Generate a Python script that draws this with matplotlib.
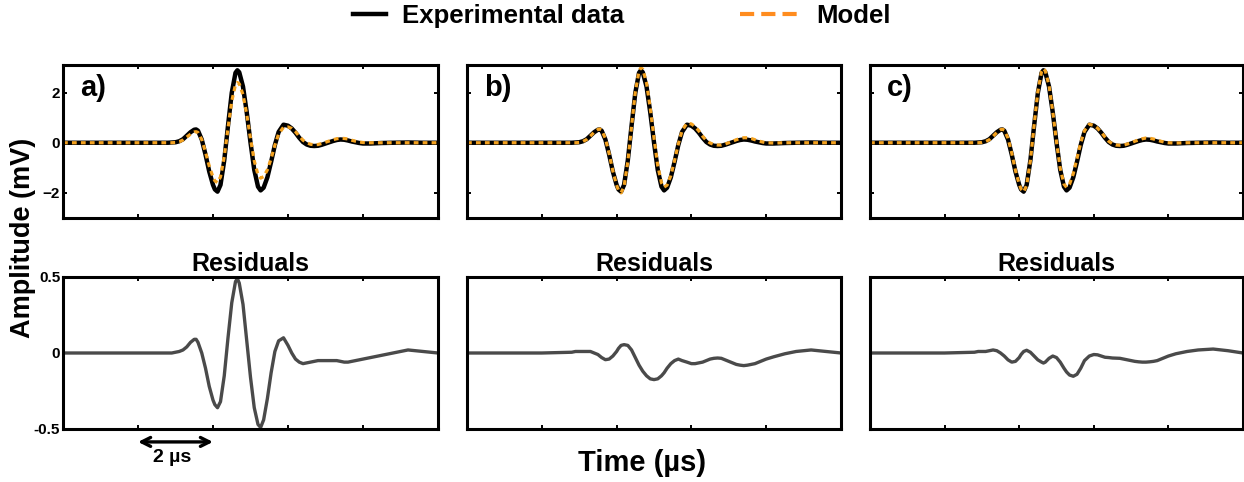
import matplotlib
matplotlib.use('agg')
import matplotlib.pyplot as plt
from matplotlib.lines import Line2D

plt.rcParams['font.family'] = ['Liberation Sans', 'DejaVu Sans']
plt.rcParams['font.weight'] = 'bold'

# time axis (µs), shared by every trace
t_us = [0, 2.0, 2.8, 2.9, 3.0, 3.1, 3.2, 3.3,
        3.4, 3.5, 3.55, 3.6, 3.7, 3.8, 3.9, 4.0,
        4.05, 4.12, 4.2, 4.3, 4.4, 4.5, 4.6, 4.65,
        4.7, 4.8, 4.9, 5.0, 5.1, 5.2, 5.27, 5.35,
        5.45, 5.55, 5.65, 5.75, 5.88, 6.0, 6.1, 6.2,
        6.3, 6.4, 6.5, 6.6, 6.7, 6.8, 6.9, 7.0,
        7.1, 7.2, 7.3, 7.4, 7.5, 7.6, 7.7, 7.8,
        7.9, 8.0, 8.2, 8.5, 8.8, 9.2, 9.6, 10.0]

# experimental waveform (mV), same in the three panels
exp_mv = [0, 0, 0, 0.01, 0.02, 0.06, 0.14, 0.28,
          0.42, 0.52, 0.53, 0.48, 0.13, -0.47, -1.15, -1.68,
          -1.86, -1.95, -1.68, -0.70, 0.68, 1.99, 2.79, 2.89,
          2.81, 2.24, 1.21, 0.01, -1.08, -1.75, -1.90, -1.79,
          -1.38, -0.76, -0.09, 0.43, 0.72, 0.68, 0.57, 0.40,
          0.20, 0.03, -0.07, -0.12, -0.13, -0.12, -0.08, -0.03,
          0.02, 0.07, 0.11, 0.13, 0.12, 0.09, 0.05, 0.02,
          -0.01, -0.03, -0.03, -0.01, 0.0, 0.01, 0.0, 0.0]

model_a = [0, 0, 0, 0, 0.01, 0.04, 0.11, 0.23,
           0.34, 0.43, 0.44, 0.41, 0.13, -0.37, -0.93, -1.37,
           -1.52, -1.59, -1.36, -0.55, 0.58, 1.66, 2.32, 2.40,
           2.35, 1.92, 1.13, 0.17, -0.72, -1.28, -1.41, -1.35,
           -1.08, -0.63, -0.10, 0.35, 0.62, 0.63, 0.57, 0.44,
           0.26, 0.10, 0.0, -0.06, -0.08, -0.07, -0.03, 0.02,
           0.07, 0.12, 0.16, 0.18, 0.17, 0.15, 0.10, 0.06,
           0.03, 0.01, 0.0, 0.0, 0.0, 0.0, 0.0, 0.0]

model_b = [0, 0, 0, 0, 0.01, 0.05, 0.13, 0.27,
           0.42, 0.53, 0.55, 0.51, 0.17, -0.43, -1.13, -1.69,
           -1.89, -2.00, -1.74, -0.75, 0.66, 2.02, 2.87, 2.99,
           2.93, 2.39, 1.38, 0.19, -0.91, -1.60, -1.77, -1.69,
           -1.31, -0.71, -0.05, 0.48, 0.78, 0.75, 0.64, 0.47,
           0.26, 0.09, -0.01, -0.07, -0.09, -0.09, -0.05, 0.0,
           0.06, 0.12, 0.17, 0.20, 0.20, 0.17, 0.12, 0.07,
           0.03, 0.0, -0.01, 0.0, 0.0, 0.0, 0.0, 0.0]

model_c = [0, 0, 0, 0, 0.01, 0.05, 0.12, 0.26,
           0.41, 0.52, 0.54, 0.50, 0.18, -0.41, -1.10, -1.65,
           -1.85, -1.96, -1.70, -0.71, 0.70, 2.04, 2.85, 2.96,
           2.87, 2.28, 1.23, 0.04, -1.02, -1.65, -1.78, -1.65,
           -1.23, -0.62, 0.01, 0.48, 0.74, 0.69, 0.58, 0.42,
           0.23, 0.06, -0.04, -0.09, -0.10, -0.09, -0.05, 0.0,
           0.06, 0.11, 0.16, 0.19, 0.18, 0.15, 0.10, 0.06,
           0.02, 0.0, -0.01, 0.0, 0.0, 0.0, 0.0, 0.0]

resid_a = [0, 0, 0.0, 0.0, 0.005, 0.01, 0.02, 0.04,
           0.07, 0.09, 0.09, 0.07, 0.0, -0.10, -0.22, -0.31,
           -0.34, -0.36, -0.32, -0.15, 0.10, 0.33, 0.47, 0.49,
           0.46, 0.32, 0.08, -0.16, -0.36, -0.47, -0.49, -0.44,
           -0.30, -0.13, 0.01, 0.08, 0.10, 0.05, 0.0, -0.04,
           -0.06, -0.07, -0.065, -0.06, -0.055, -0.05, -0.05, -0.05,
           -0.05, -0.05, -0.05, -0.055, -0.06, -0.06, -0.055, -0.05,
           -0.045, -0.04, -0.03, -0.015, 0.0, 0.02, 0.01, 0.0]

resid_b = [0, 0, 0.005, 0.01, 0.01, 0.01, 0.01, 0.01,
           0.0, -0.01, -0.02, -0.03, -0.044, -0.04, -0.02, 0.01,
           0.03, 0.05, 0.055, 0.05, 0.02, -0.03, -0.08, -0.10,
           -0.12, -0.15, -0.17, -0.175, -0.17, -0.15, -0.13, -0.10,
           -0.07, -0.05, -0.04, -0.05, -0.06, -0.07, -0.07, -0.065,
           -0.06, -0.05, -0.04, -0.035, -0.033, -0.035, -0.045, -0.055,
           -0.065, -0.075, -0.08, -0.083, -0.08, -0.075, -0.07, -0.06,
           -0.05, -0.04, -0.025, -0.005, 0.01, 0.02, 0.01, 0.0]

resid_c = [0, 0, 0.005, 0.01, 0.01, 0.01, 0.015, 0.02,
           0.015, 0.0, -0.01, -0.02, -0.045, -0.06, -0.055, -0.03,
           -0.01, 0.01, 0.018, 0.005, -0.02, -0.045, -0.06, -0.066,
           -0.06, -0.035, -0.02, -0.03, -0.06, -0.10, -0.125, -0.145,
           -0.153, -0.14, -0.10, -0.05, -0.02, -0.01, -0.012, -0.02,
           -0.028, -0.03, -0.033, -0.034, -0.035, -0.04, -0.045, -0.05,
           -0.055, -0.058, -0.06, -0.06, -0.058, -0.055, -0.05, -0.04,
           -0.03, -0.02, -0.005, 0.01, 0.02, 0.026, 0.015, 0.0]

panel_labels = ['a)', 'b)', 'c)']
models = [model_a, model_b, model_c]
residuals = [resid_a, resid_b, resid_c]

exp_color = 'black'
model_color = '#f4a21f'
res_color = '#4a4a4a'

W, H = 1244.0, 482.0
fig = plt.figure(figsize=(12.44, 4.82), dpi=100)
lefts = [63, 467, 870]
widths = [375, 374, 373]


def style(ax, ylim, yticks, ylabels):
    ax.set_xlim(0, 10)
    ax.set_ylim(*ylim)
    ax.set_xticks([0, 2, 4, 6, 8, 10])
    ax.set_xticklabels([])
    ax.set_yticks(yticks)
    ax.set_yticklabels(ylabels)
    ax.tick_params(direction='in', length=3, width=1.4, top=True, right=True,
                   labelsize=11, pad=2)
    for s in ax.spines.values():
        s.set_linewidth(2.2)


for i in range(3):
    ax = fig.add_axes([lefts[i] / W, 1 - 218 / H, widths[i] / W, 153 / H])
    ax.plot(t_us, exp_mv, color=exp_color, lw=3.2, solid_capstyle='round')
    ax.plot(t_us, models[i], color=model_color, lw=2.3, dashes=(1.5, 1.3))
    style(ax, (-3, 3.1), [-2, 0, 2], ['\u22122', '0', '2'] if i == 0 else [])
    ax.text(0.045, 0.85, panel_labels[i], transform=ax.transAxes,
            fontsize=21, va='center', ha='left')

    axr = fig.add_axes([lefts[i] / W, 1 - 429 / H, widths[i] / W, 152 / H])
    axr.plot(t_us, residuals[i], color=res_color, lw=2.4)
    style(axr, (-0.5, 0.5), [-0.5, 0, 0.5], ['-0.5', '0', '0.5'] if i == 0 else [])
    axr.set_title('Residuals', fontsize=18, fontweight='bold', pad=4)

    if i == 0:
        axr.annotate('', xy=(2.0, -0.085), xytext=(4.0, -0.085),
                     xycoords=('data', 'axes fraction'),
                     arrowprops=dict(arrowstyle='<->', lw=2.4, color='black',
                                     mutation_scale=16, shrinkA=0, shrinkB=0),
                     annotation_clip=False)
        axr.text(2.91, -0.19, '2 \u00b5s', transform=axr.get_xaxis_transform(),
                 fontsize=14, ha='center', va='center')

fig.text(23 / W, 1 - 238 / H, 'Amplitude (mV)', rotation=90, fontsize=19.5,
         ha='center', va='center')
fig.text(642 / W, 1 - 463 / H, 'Time (\u00b5s)', fontsize=21,
         ha='center', va='center')

h_exp = Line2D([], [], color=exp_color, lw=3.2)
h_mod = Line2D([], [], color='#ff8c1e', lw=3, dashes=(3.4, 1.7))
fig.legend([h_exp], ['Experimental data'], loc='center left',
           bbox_to_anchor=(353 / W, 1 - 16 / H), frameon=False, fontsize=18.5,
           handlelength=1.3, handletextpad=0.6, borderpad=0, borderaxespad=0)
fig.legend([h_mod], ['Model'], loc='center left',
           bbox_to_anchor=(740 / W, 1 - 16 / H), frameon=False, fontsize=18.5,
           handlelength=2.2, handletextpad=0.75, borderpad=0, borderaxespad=0)

plt.savefig('out.png', dpi=100)
